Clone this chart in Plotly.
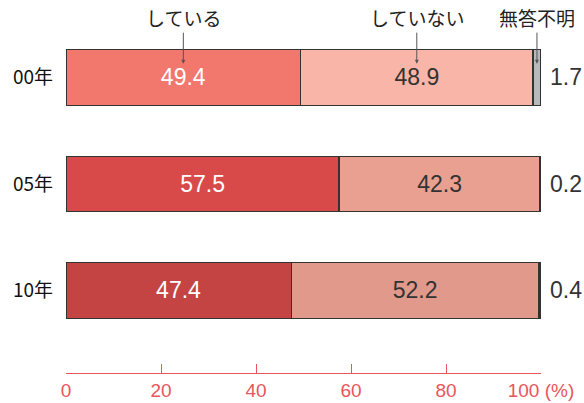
import plotly.graph_objects as go

years = ["00年", "05年", "10年"]
doing = [49.4, 57.5, 47.4]
not_doing = [48.9, 42.3, 52.2]
no_answer = [1.7, 0.2, 0.4]
x_ticks = [0, 20, 40, 60, 80, 100]
unit = " (%)"

doing_colors = ["#F2776C", "#D84A4A", "#C44444"]
not_doing_colors = ["#F9B5A8", "#E9A091", "#E0998A"]
no_answer_colors = ["#B7B8BC", "#B7B8BC", "#B7B8BC"]

pos = list(range(len(years)))
outline = dict(color="#333333", width=1.3)
num_font = "Liberation Sans, Arial, sans-serif"
jp_font = "Noto Sans CJK JP, sans-serif"
axis_red = "#E8555B"
bar_w = 0.52

fig = go.Figure()
fig.add_bar(
    y=pos, x=doing, orientation="h", width=bar_w,
    marker=dict(color=doing_colors, line=outline),
    text=[f"{v:.1f}" for v in doing], textposition="inside",
    insidetextanchor="middle",
    textfont=dict(family=num_font, size=23, color="white"),
    name="している",
)
fig.add_bar(
    y=pos, x=not_doing, orientation="h", width=bar_w,
    marker=dict(color=not_doing_colors, line=outline),
    text=[f"{v:.1f}" for v in not_doing], textposition="inside",
    insidetextanchor="middle",
    textfont=dict(family=num_font, size=23, color="#333333"),
    name="していない",
)
fig.add_bar(
    y=pos, x=no_answer, orientation="h", width=bar_w,
    marker=dict(color=no_answer_colors, line=outline),
    textposition="none",
    name="無答不明",
)

# values of the small segment, printed just right of each bar
for i, v in enumerate(no_answer):
    total = doing[i] + not_doing[i] + v
    fig.add_annotation(
        x=total, y=pos[i], text=f"{v:.1f}", showarrow=False,
        xanchor="left", xshift=7,
        font=dict(family=num_font, size=23, color="#333333"),
    )

# callouts pointing into the first bar
tip_y = pos[0] - 0.13
callouts = [
    ("している", doing[0] / 2),
    ("していない", doing[0] + not_doing[0] / 2),
    ("無答不明", doing[0] + not_doing[0] + no_answer[0] / 2),
]
for label, xc in callouts:
    fig.add_annotation(
        x=xc, y=tip_y, text=label, showarrow=True,
        ax=0, ay=-46, arrowhead=2, arrowsize=0.8, arrowwidth=1,
        arrowcolor="#555555", standoff=0, startstandoff=0,
        font=dict(family=jp_font, size=19, color="#222222"),
    )

tick_text = [str(t) for t in x_ticks]
tick_text[-1] = tick_text[-1] + unit

fig.update_layout(
    barmode="stack",
    width=584, height=403,
    margin=dict(l=66, r=43, t=30, b=30),
    paper_bgcolor="white", plot_bgcolor="white",
    showlegend=False,
    xaxis=dict(
        range=[0, 100], tickvals=x_ticks, ticktext=tick_text,
        automargin=False, ticklabeloverflow="allow",
        showgrid=False, zeroline=False, showline=True,
        linecolor=axis_red, linewidth=1.2,
        ticks="inside", ticklen=9, tickcolor=axis_red, tickwidth=1.2,
        tickfont=dict(family=num_font, size=19, color=axis_red),
    ),
    yaxis=dict(
        range=[2.775, -0.446], tickvals=pos, ticktext=years,
        automargin=False,
        showgrid=False, zeroline=False, showline=False, ticks="",
        tickfont=dict(family=jp_font, size=19, color="#111111"),
        ticklabelstandoff=12,
    ),
)

fig.write_html("out.html")
